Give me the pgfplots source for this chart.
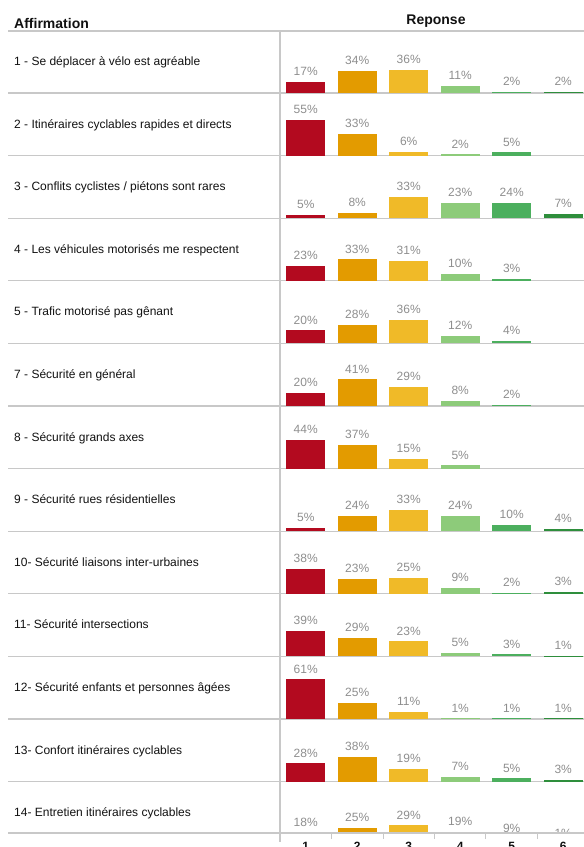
\documentclass[border=0pt]{standalone}
\usepackage{fontspec}
\setmainfont{Liberation Sans}
\usepackage{pgfplots}
\pgfplotsset{compat=1.18}

\definecolor{c1}{HTML}{B30A1F}
\definecolor{c2}{HTML}{E39B00}
\definecolor{c3}{HTML}{F0BA28}
\definecolor{c4}{HTML}{8DCB7A}
\definecolor{c5}{HTML}{4CAF5E}
\definecolor{c6}{HTML}{2E8E3C}
\definecolor{linegray}{HTML}{C8C8C8}
\definecolor{labgray}{HTML}{8E8E8E}
\definecolor{txt}{HTML}{111111}

% one small bar panel per statement, 1pt = 1px of the reference
\pgfplotsset{
  rowbars/.style={
    scale only axis, width=304pt, height=62.6pt,
    anchor=south west,
    xmin=0.5, xmax=6.403, ymin=0, ymax=96.3,
    axis lines=none, clip=false,
    bar width=39pt,
    /pgf/number format/assume math mode=true,
    nodes near coords={\pgfmathprintnumber{\pgfplotspointmeta}\%},
    every node near coord/.append style={font=\fontsize{12}{13}\selectfont,
      text=labgray, inner sep=0pt, yshift=6pt},
  },
  b1/.style={ybar, fill=c1, draw=none},
  b2/.style={ybar, fill=c2, draw=none},
  b3/.style={ybar, fill=c3, draw=none},
  b4/.style={ybar, fill=c4, draw=none},
  b5/.style={ybar, fill=c5, draw=none},
  b6/.style={ybar, fill=c6, draw=none},
}

\begin{document}
\begin{tikzpicture}
\useasboundingbox (0,0) rectangle (584pt,-847pt);
\clip (0,0) rectangle (584pt,-847pt);

% table rules (under the bars)
\draw[linegray, line width=1.3pt] (8pt,-31pt) -- (584pt,-31pt);
\foreach \y in {93,155.6,218.2,280.8,343.4,406,468.6,531.2,593.8,656.4,719,781.6}
  \draw[linegray, line width=1.3pt] (8pt,-\y pt) -- (584pt,-\y pt);
\draw[linegray, line width=1.3pt] (280pt,-31pt) -- (280pt,-842pt);

% 1 - Se deplacer a velo est agreable
\begin{axis}[rowbars, at={(280pt,-93pt)}]
\addplot[b1] coordinates {(1,17)};
\addplot[b2] coordinates {(2,34)};
\addplot[b3] coordinates {(3,36)};
\addplot[b4] coordinates {(4,11)};
\addplot[b5] coordinates {(5,2)};
\addplot[b6] coordinates {(6,2)};
\end{axis}
% 2
\begin{axis}[rowbars, at={(280pt,-155.6pt)}]
\addplot[b1] coordinates {(1,55)};
\addplot[b2] coordinates {(2,33)};
\addplot[b3] coordinates {(3,6)};
\addplot[b4] coordinates {(4,2)};
\addplot[b5] coordinates {(5,5)};
\end{axis}
% 3
\begin{axis}[rowbars, at={(280pt,-218.2pt)}]
\addplot[b1] coordinates {(1,5)};
\addplot[b2] coordinates {(2,8)};
\addplot[b3] coordinates {(3,33)};
\addplot[b4] coordinates {(4,23)};
\addplot[b5] coordinates {(5,24)};
\addplot[b6] coordinates {(6,7)};
\end{axis}
% 4
\begin{axis}[rowbars, at={(280pt,-280.8pt)}]
\addplot[b1] coordinates {(1,23)};
\addplot[b2] coordinates {(2,33)};
\addplot[b3] coordinates {(3,31)};
\addplot[b4] coordinates {(4,10)};
\addplot[b5] coordinates {(5,3)};
\end{axis}
% 5
\begin{axis}[rowbars, at={(280pt,-343.4pt)}]
\addplot[b1] coordinates {(1,20)};
\addplot[b2] coordinates {(2,28)};
\addplot[b3] coordinates {(3,36)};
\addplot[b4] coordinates {(4,12)};
\addplot[b5] coordinates {(5,4)};
\end{axis}
% 7
\begin{axis}[rowbars, at={(280pt,-406pt)}]
\addplot[b1] coordinates {(1,20)};
\addplot[b2] coordinates {(2,41)};
\addplot[b3] coordinates {(3,29)};
\addplot[b4] coordinates {(4,8)};
\addplot[b5] coordinates {(5,2)};
\end{axis}
% 8
\begin{axis}[rowbars, at={(280pt,-468.6pt)}]
\addplot[b1] coordinates {(1,44)};
\addplot[b2] coordinates {(2,37)};
\addplot[b3] coordinates {(3,15)};
\addplot[b4] coordinates {(4,5)};
\end{axis}
% 9
\begin{axis}[rowbars, at={(280pt,-531.2pt)}]
\addplot[b1] coordinates {(1,5)};
\addplot[b2] coordinates {(2,24)};
\addplot[b3] coordinates {(3,33)};
\addplot[b4] coordinates {(4,24)};
\addplot[b5] coordinates {(5,10)};
\addplot[b6] coordinates {(6,4)};
\end{axis}
% 10
\begin{axis}[rowbars, at={(280pt,-593.8pt)}]
\addplot[b1] coordinates {(1,38)};
\addplot[b2] coordinates {(2,23)};
\addplot[b3] coordinates {(3,25)};
\addplot[b4] coordinates {(4,9)};
\addplot[b5] coordinates {(5,2)};
\addplot[b6] coordinates {(6,3)};
\end{axis}
% 11
\begin{axis}[rowbars, at={(280pt,-656.4pt)}]
\addplot[b1] coordinates {(1,39)};
\addplot[b2] coordinates {(2,29)};
\addplot[b3] coordinates {(3,23)};
\addplot[b4] coordinates {(4,5)};
\addplot[b5] coordinates {(5,3)};
\addplot[b6] coordinates {(6,1)};
\end{axis}
% 12
\begin{axis}[rowbars, at={(280pt,-719pt)}]
\addplot[b1] coordinates {(1,61)};
\addplot[b2] coordinates {(2,25)};
\addplot[b3] coordinates {(3,11)};
\addplot[b4] coordinates {(4,1)};
\addplot[b5] coordinates {(5,1)};
\addplot[b6] coordinates {(6,1)};
\end{axis}
% 13
\begin{axis}[rowbars, at={(280pt,-781.6pt)}]
\addplot[b1] coordinates {(1,28)};
\addplot[b2] coordinates {(2,38)};
\addplot[b3] coordinates {(3,19)};
\addplot[b4] coordinates {(4,7)};
\addplot[b5] coordinates {(5,5)};
\addplot[b6] coordinates {(6,3)};
\end{axis}
% 14 (cut off by the bottom axis)
\begin{axis}[rowbars, at={(280pt,-844.2pt)}]
\addplot[b1] coordinates {(1,18)};
\addplot[b2] coordinates {(2,25)};
\addplot[b3] coordinates {(3,29)};
\addplot[b4] coordinates {(4,19)};
\addplot[b5] coordinates {(5,9)};
\addplot[b6] coordinates {(6,1)};
\end{axis}

% mask under the last row, then the last rule
\fill[white] (281pt,-833.6pt) rectangle (584pt,-847pt);
\draw[linegray, line width=1.3pt] (8pt,-833pt) -- (584pt,-833pt);
\draw[linegray, line width=1.3pt] (280pt,-833pt) -- (280pt,-842pt);

% headers
\node[anchor=base west, inner sep=0pt, font=\fontsize{14}{16}\selectfont\bfseries, text=txt]
  at (14pt,-28pt) {Affirmation};
\node[anchor=base, inner sep=0pt, font=\fontsize{14}{16}\selectfont\bfseries, text=txt]
  at (436pt,-24pt) {Reponse};

% statements
\begin{scope}[every node/.style={anchor=base west, inner sep=0pt,
    font=\fontsize{12}{14}\selectfont, text=txt}]
\node at (14pt,-65.4pt) {1 - Se déplacer à vélo est agréable};
\node at (14pt,-128pt) {2 - Itinéraires cyclables rapides et directs};
\node at (14pt,-190.6pt) {3 - Conflits cyclistes / piétons sont rares};
\node at (14pt,-253.2pt) {4 - Les véhicules motorisés me respectent};
\node at (14pt,-315.8pt) {5 - Trafic motorisé pas gênant};
\node at (14pt,-378.4pt) {7 - Sécurité en général};
\node at (14pt,-441pt) {8 - Sécurité grands axes};
\node at (14pt,-503.6pt) {9 - Sécurité rues résidentielles};
\node at (14pt,-566.2pt) {10- Sécurité liaisons inter-urbaines};
\node at (14pt,-628.8pt) {11- Sécurité intersections};
\node at (14pt,-691.4pt) {12- Sécurité enfants et personnes âgées};
\node at (14pt,-754pt) {13- Confort itinéraires cyclables};
\node at (14pt,-816.6pt) {14- Entretien itinéraires cyclables};
\end{scope}

% bottom category axis
\begin{axis}[
  scale only axis, width=304pt, height=10pt, anchor=south west,
  at={(280pt,-833pt)},
  xmin=0.5, xmax=6.403, ymin=0, ymax=1,
  axis x line*=bottom, axis y line=none,
  x axis line style={draw=linegray, line width=1.3pt, -},
  xtick={1,2,3,4,5,6}, xticklabels={1,2,3,4,5,6},
  major x tick style={draw=none},
  minor xtick={0.5,1.5,2.5,3.5,4.5,5.5},
  minor x tick style={draw=linegray, line width=1pt},
  minor tick length=6pt, tick align=outside,
  xticklabel style={font=\fontsize{12}{14}\selectfont\bfseries, text=txt, yshift=-1.5pt},
]
\end{axis}
\end{tikzpicture}
\end{document}
